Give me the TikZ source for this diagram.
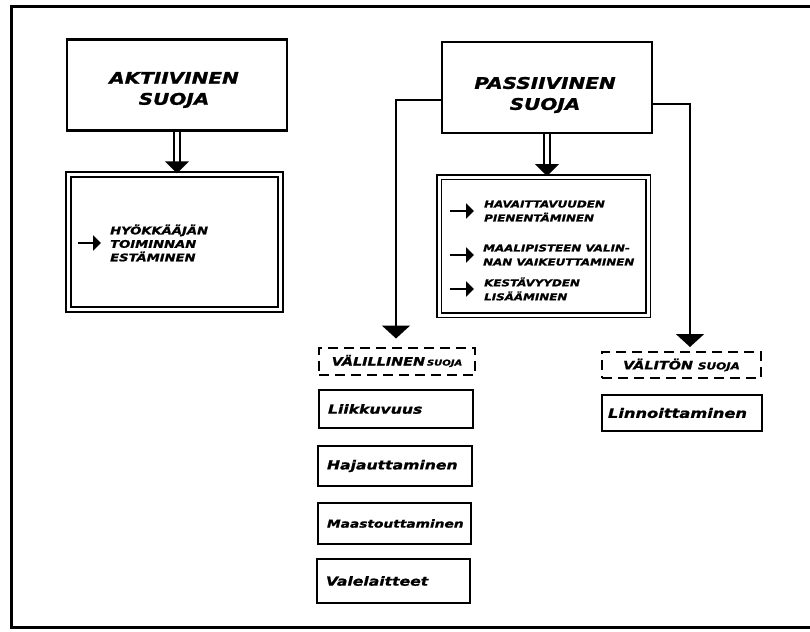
\documentclass[tikz,border=0pt]{standalone}
\usepackage{fontspec}
\newfontfamily\hand[FakeStretch=1.25,FakeBold=1.3]{DejaVu Sans}
\usetikzlibrary{arrows.meta}
\begin{document}
\begin{tikzpicture}[x=1pt,y=-1pt,
  titlebox/.style={draw, line width=2.4pt, inner sep=0},
  titletext/.style={inner sep=0, align=center, font=\hand\bfseries\itshape\fontsize{16}{21}\selectfont},
  dbox/.style={draw, line width=1.8pt, double distance=3pt, inner sep=0},
  itembox/.style={draw, line width=2.2pt, inner ysep=0, inner xsep=9pt, align=left, font=\hand\bfseries\itshape\fontsize{12.5}{14}\selectfont},
  dashbox/.style={draw, line width=2pt, dash pattern=on 10pt off 6pt, inner sep=0, font=\hand\bfseries\itshape\fontsize{11.5}{13}\selectfont},
  capsA/.style={align=left, inner sep=0, font=\hand\bfseries\itshape\fontsize{10.5}{13.5}\selectfont},
  capsB/.style={align=left, inner sep=0, font=\hand\bfseries\itshape\fontsize{9.5}{14}\selectfont},
  bullet/.style={line width=2.2pt, -{Triangle[length=8pt,width=15pt]}},
  branch/.style={line width=2pt, -{Triangle[length=13pt,width=28pt]}},
  dshaft/.style={line width=2pt, double distance=4pt},
]
\useasboundingbox (0,0) rectangle (810,631);
\fill[white] (0,0) rectangle (810,631);
\draw[line width=3pt] (810,7) -- (11,7) -- (11,627) -- (810,627);

% title boxes
\node[titlebox, minimum width=220pt, minimum height=91pt] (akt) at (177,85) {};
\node[titletext] (akttxt) at (174,90) {AKTIIVINEN\\SUOJA};
\node[titlebox, minimum width=210pt, minimum height=91pt] (pas) at (547,87.5) {};
\node[titletext] (pastxt) at (545,95) {PASSIIVINEN\\SUOJA};

% double boxes
\node[dbox, minimum width=212pt, minimum height=135.5pt] (ain) at (174.5,242) {};
\node[dbox, minimum width=209pt, minimum height=138pt] (pin) at (543.5,246) {};

% double arrows
\draw[dshaft, shorten >=11pt] (akt.south) -- (akt.south |- ain.north);
\fill (akt.south |- ain.north) -- ++(-12,-12) -- ++(24,0) -- cycle;
\draw[dshaft, shorten >=11pt] (pas.south) -- (pas.south |- pin.north);
\fill (pas.south |- pin.north) -- ++(-12,-12) -- ++(24,0) -- cycle;

% active box text
\node[capsA, anchor=west] (a1) at (110,243) {HYÖKKÄÄJÄN\\TOIMINNAN\\ESTÄMINEN};
\draw[bullet] ([xshift=-32pt]a1.west) -- ([xshift=-9pt]a1.west);

% passive box texts
\node[capsB, anchor=west] (p1) at (484,211) {HAVAITTAVUUDEN\\PIENENTÄMINEN};
\node[capsB, anchor=west] (p2) at (483,255) {MAALIPISTEEN VALIN-\\NAN VAIKEUTTAMINEN};
\node[capsB, anchor=west] (p3) at (484,289) {KESTÄVYYDEN\\LISÄÄMINEN};
\draw[bullet] ([xshift=-34pt]p1.west) -- ([xshift=-10pt]p1.west);
\draw[bullet] ([xshift=-33pt]p2.west) -- ([xshift=-9pt]p2.west);
\draw[bullet] ([xshift=-34pt]p3.west) -- ([xshift=-10pt]p3.west);

% dashed boxes
\node[dashbox, minimum width=156pt, minimum height=27pt] (vll) at (397,361) {VÄLILLINEN\,{\fontsize{8}{9}\selectfont SUOJA}};
\node[dashbox, minimum width=159pt, minimum height=26pt] (vlt) at (681.5,365) {VÄLITÖN {\fontsize{9.5}{10}\selectfont SUOJA}};

% branches
\draw[branch] ([yshift=-12.5pt]pas.west) -| ([xshift=-1pt,yshift=8pt]vll.north);
\draw[branch] ([yshift=-16.5pt]pas.east) -| ([xshift=8.5pt,yshift=4pt]vlt.north);

% item boxes
\node[itembox, text width=136pt, minimum height=38pt] (li1) at (396,409) {Liikkuvuus};
\node[itembox, text width=136pt, minimum height=40pt] (li2) at (395,466) {Hajauttaminen};
\node[itembox, text width=135pt, minimum height=41pt, font=\hand\bfseries\itshape\fontsize{11}{14}\selectfont] (li3) at (394.5,523.5) {Maastouttaminen};
\node[itembox, text width=135pt, minimum height=44pt] (li4) at (393.5,581) {Valelaitteet};
\node[itembox, inner xsep=6pt, text width=148pt, minimum height=36pt, font=\hand\bfseries\itshape\fontsize{13}{15}\selectfont] (ln) at (682,413) {Linnoittaminen};
\end{tikzpicture}
\end{document}
